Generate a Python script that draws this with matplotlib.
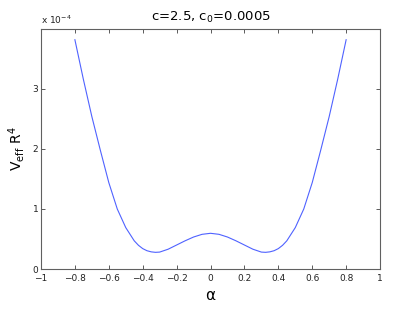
import numpy as np
import matplotlib
matplotlib.use('Agg')
import matplotlib.pyplot as plt

# alpha grid and effective potential (in units of 1e-4)
alpha = [-0.80, -0.75, -0.70, -0.65, -0.60, -0.55, -0.50, -0.45, -0.425, -0.40, -0.375,
         -0.35, -0.325, -0.30, -0.25, -0.20, -0.15, -0.10, -0.05, 0.00,
         0.05, 0.10, 0.15, 0.20, 0.25, 0.30, 0.325, 0.35, 0.375, 0.40, 0.425,
         0.45, 0.50, 0.55, 0.60, 0.65, 0.70, 0.75, 0.80]
veff = [3.82, 3.16, 2.54, 1.98, 1.44, 1.00, 0.69, 0.47, 0.395, 0.34, 0.305,
        0.286, 0.278, 0.282, 0.33, 0.40, 0.47, 0.533, 0.578, 0.595,
        0.578, 0.533, 0.47, 0.40, 0.33, 0.282, 0.278, 0.286, 0.305, 0.34, 0.395,
        0.47, 0.69, 1.00, 1.44, 1.98, 2.54, 3.16, 3.82]
xticks = [-1, -0.8, -0.6, -0.4, -0.2, 0, 0.2, 0.4, 0.6, 0.8, 1]
yticks = [0, 1, 2, 3]

fig = plt.figure(figsize=(4.14, 3.11), dpi=100)
ax = fig.add_axes([0.099, 0.135, 0.819, 0.772])
ax.plot(alpha, veff, color='#4f62ff', linewidth=0.8)

ax.set_xlim(-1, 1)
ax.set_ylim(0, 4)
ax.set_xticks(xticks)
ax.set_xticklabels([('%g' % t).replace('-', '\u2212') for t in xticks])
ax.set_yticks(yticks)
ax.tick_params(direction='in', top=True, right=True, labelsize=6.5,
               length=3, width=0.6, colors='#404040', labelcolor='#222222', pad=2)
ax.tick_params(axis='x', pad=3.5)
for s in ax.spines.values():
    s.set_color('#606060')
    s.set_linewidth(0.8)

ax.text(0.0, 1.012, r'x 10$^{-4}$', transform=ax.transAxes, fontsize=6.5,
        color='#222222', ha='left', va='bottom')
ax.set_title(r'c=2.5, c$_0$=0.0005', fontsize=9.5, pad=6)
ax.set_xlabel('\u03b1', fontsize=11, labelpad=4)
ax.set_ylabel(r'V$_\mathrm{eff}$ R$^4$', fontsize=10, labelpad=4)

fig.savefig('out.png', dpi=100)
